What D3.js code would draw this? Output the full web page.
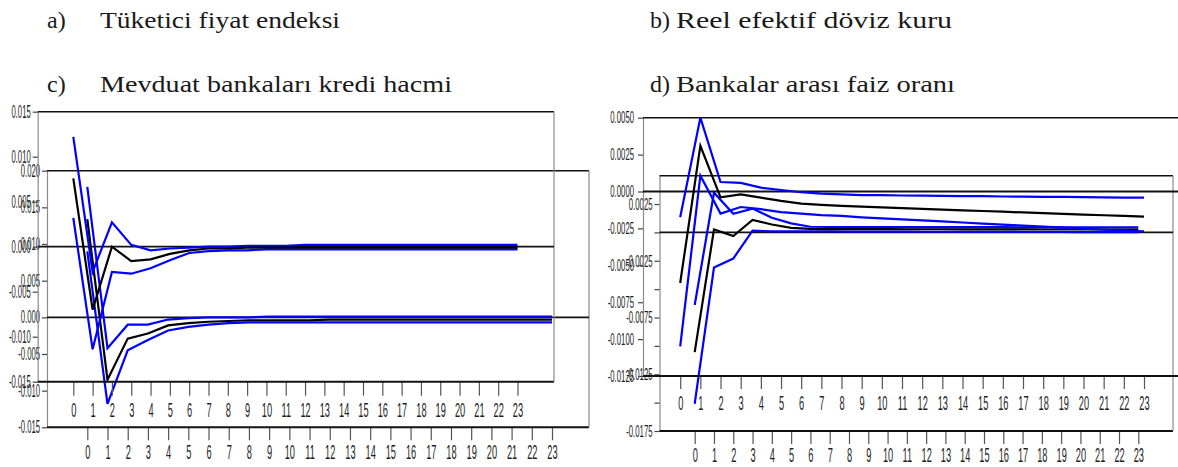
<!DOCTYPE html>
<html>
<head>
<meta charset="utf-8">
<script src="https://cdn.jsdelivr.net/npm/d3@7"></script>
<style>
    html, body { margin: 0; padding: 0; background: #fff; }
    svg { display: block; }
</style>
</head>
<body>
<svg id="chart" width="1178" height="467"></svg>
<script>

// impulse horizon
const periods = [0, 1, 2, 3, 4, 5, 6, 7, 8, 9, 10, 11, 12, 13, 14, 15, 16, 17, 18, 19, 20, 21, 22, 23];

// c) credit volume, front graph
const creditAUpper = [0.0122, -0.0028, 0.0027, 0.0002, -0.0004, -0.0002, -0.0001, 0.0000, 0.0000, 0.0001, 0.0001, 0.0001, 0.0002, 0.0002, 0.0002, 0.0002, 0.0002, 0.0002, 0.0002, 0.0002, 0.0002, 0.0002, 0.0002, 0.0002];
const creditAResp  = [0.0076, -0.0070, 0.0000, -0.0016, -0.0014, -0.0008, -0.0004, -0.0002, -0.0002, -0.0001, -0.0001, -0.0001, -0.0001, -0.0001, -0.0001, -0.0001, -0.0001, -0.0001, -0.0001, -0.0001, -0.0001, -0.0001, -0.0001, -0.0001];
const creditALower = [0.0032, -0.0114, -0.0028, -0.0030, -0.0024, -0.0015, -0.0007, -0.0005, -0.0004, -0.0004, -0.0003, -0.0003, -0.0003, -0.0003, -0.0003, -0.0003, -0.0003, -0.0003, -0.0003, -0.0003, -0.0003, -0.0003, -0.0003, -0.0003];

// c) credit volume, back graph
const creditBUpper = [0.0178, -0.0042, -0.0010, -0.0010, -0.0003, -0.0001, 0.0000, 0.0000, 0.0000, 0.0001, 0.0001, 0.0001, 0.0001, 0.0001, 0.0001, 0.0001, 0.0001, 0.0001, 0.0001, 0.0001, 0.0001, 0.0001, 0.0001, 0.0001];
const creditBResp  = [0.0134, -0.0085, -0.0029, -0.0022, -0.0011, -0.0008, -0.0006, -0.0005, -0.0004, -0.0004, -0.0004, -0.0004, -0.0003, -0.0003, -0.0003, -0.0003, -0.0003, -0.0003, -0.0003, -0.0003, -0.0003, -0.0003, -0.0003, -0.0003];
const creditBLower = [0.0090, -0.0118, -0.0045, -0.0031, -0.0018, -0.0013, -0.0010, -0.0008, -0.0007, -0.0007, -0.0007, -0.0007, -0.0007, -0.0007, -0.0007, -0.0007, -0.0007, -0.0007, -0.0007, -0.0007, -0.0007, -0.0007, -0.0007, -0.0007];

// d) interbank rate, front graph
const rateAUpper = [-0.00175, 0.0050, 0.00064, 0.00058, 0.00026, 0.00010, -0.00005, -0.00015, -0.00020, -0.00024, -0.00025, -0.00027, -0.00028, -0.00030, -0.00031, -0.00032, -0.00034, -0.00035, -0.00036, -0.00037, -0.00038, -0.00040, -0.00041, -0.00042];
const rateAResp  = [-0.0062, 0.0031, -0.0004, -0.0002, -0.00042, -0.00064, -0.00082, -0.00091, -0.00098, -0.00103, -0.00108, -0.00113, -0.00118, -0.00123, -0.00128, -0.00132, -0.00137, -0.00142, -0.00147, -0.00152, -0.00156, -0.00161, -0.00165, -0.00170];
const rateALower = [-0.0105, 0.00107, -0.0015, -0.00105, -0.0012, -0.0014, -0.0015, -0.0016, -0.00165, -0.00175, -0.00182, -0.00189, -0.00196, -0.00203, -0.0021, -0.00217, -0.00224, -0.00231, -0.00238, -0.00245, -0.00252, -0.00259, -0.00265, -0.0027];

// d) interbank rate, back graph
const rateBUpper = [-0.0064, 0.0035, 0.00165, 0.0021, 0.0013, 0.0008, 0.0005, 0.00048, 0.00047, 0.00047, 0.00047, 0.00047, 0.00046, 0.00046, 0.00046, 0.00046, 0.00046, 0.00045, 0.00045, 0.00045, 0.00045, 0.00045, 0.00045, 0.00045];
const rateBResp  = [-0.01055, 0.00026, -0.00032, 0.0011, 0.0007, 0.0004, 0.00032, 0.0003, 0.0003, 0.00029, 0.00029, 0.00028, 0.00028, 0.00028, 0.00027, 0.00027, 0.00027, 0.00027, 0.00026, 0.00026, 0.00026, 0.00026, 0.00026, 0.00026];
const rateBLower = [-0.0151, -0.0031, -0.0023, 0.00015, 0.0001, 0.0001, 0.0001, 0.0001, 0.00008, 0.00008, 0.00007, 0.00007, 0.00006, 0.00006, 0.00005, 0.00005, 0.00005, 0.00004, 0.00004, 0.00004, 0.00003, 0.00003, 0.00003, 0.00003];

// axis ticks
const creditATicks = [0.015, 0.010, 0.005, 0.000, -0.005, -0.010, -0.015];
const creditBTicks = [0.020, 0.015, 0.010, 0.005, 0.000, -0.005, -0.010, -0.015];
const rateATicks = [0.0050, 0.0025, 0.0000, -0.0025, -0.0050, -0.0075, -0.0100, -0.0125];
const rateBTicks = [0.0025, 0.0000, -0.0025, -0.0050, -0.0075, -0.0100, -0.0125, -0.0150, -0.0175];
const rateBLabels = [0.0025, -0.0025, -0.0075, -0.0125, -0.0175];

// panel titles
const titles = [
    { tag: 'a)', text: 'Tüketici fiyat endeksi' },
    { tag: 'b)', text: 'Reel efektif döviz kuru' },
    { tag: 'c)', text: 'Mevduat bankaları kredi hacmi' },
    { tag: 'd)', text: 'Bankalar arası faiz oranı' }
];

const svg = d3.select('#chart');
const BLUE = '#0000ff';

// titles
const titlePos = [
    { x: 47, tx: 100, y: 28, w: 240 },
    { x: 650, tx: 676, y: 28, w: 276 },
    { x: 47, tx: 100, y: 92, w: 352 },
    { x: 650, tx: 676, y: 92, w: 279 }
];

titles.forEach((t, i) => {
    const p = titlePos[i];
    svg.append('text')
        .attr('x', p.x)
        .attr('y', p.y)
        .attr('font-family', 'Liberation Serif, serif')
        .attr('font-size', 24)
        .attr('fill', '#1a1a1a')
        .text(t.tag);
    svg.append('text')
        .attr('x', p.tx)
        .attr('y', p.y)
        .attr('font-family', 'Liberation Serif, serif')
        .attr('font-size', 24)
        .attr('fill', '#1a1a1a')
        .attr('textLength', p.w)
        .attr('lengthAdjust', 'spacingAndGlyphs')
        .text(t.text);
});

function drawGraph (opt) {

    const {
        frame, xRange, yDomain, yTicks, yLabels = yTicks, digits,
        ySize, ySx, yPad, xTick, xPad, upper, resp, lower
    } = opt;

    const x = d3.scaleLinear().domain([0, 23]).range(xRange);
    const y = d3.scaleLinear().domain(yDomain).range([frame.bottom, frame.top]);
    const g = svg.append('g');

    // y axis
    const yAxis = d3.axisLeft(y)
        .tickValues(yTicks)
        .tickSize(5)
        .tickSizeOuter(0)
        .tickPadding(0)
        .tickFormat(d => yLabels.some(v => Math.abs(v - d) < 1e-9) ? d.toFixed(digits) : '');

    const ya = g.append('g')
        .attr('transform', `translate(${frame.left},0)`)
        .call(yAxis);

    ya.select('.domain').attr('stroke', '#8a8a8a').attr('stroke-width', 1.2);
    ya.selectAll('.tick line').attr('stroke', '#444').attr('stroke-width', 1.2);
    ya.selectAll('.tick text')
        .attr('font-family', 'Liberation Sans, Arial, sans-serif')
        .attr('font-size', ySize)
        .attr('fill', '#1e1e1e')
        .attr('x', -(5 + yPad) / ySx)
        .attr('transform', `scale(${ySx},1)`);

    // x axis
    const xAxis = d3.axisBottom(x)
        .tickValues(periods)
        .tickSize(xTick)
        .tickSizeOuter(0)
        .tickPadding(xPad)
        .tickFormat(d3.format('d'));

    const xa = g.append('g')
        .attr('transform', `translate(0,${frame.bottom})`)
        .call(xAxis);

    xa.select('.domain').remove();
    xa.selectAll('.tick line').attr('stroke', '#555').attr('stroke-width', 1.2);
    xa.selectAll('.tick text')
        .attr('font-family', 'Liberation Sans, Arial, sans-serif')
        .attr('font-size', 21)
        .attr('fill', '#1e1e1e')
        .attr('transform', 'scale(0.44,1)');

    // frame
    g.append('line')
        .attr('x1', frame.left).attr('x2', frame.right)
        .attr('y1', frame.top).attr('y2', frame.top)
        .attr('stroke', '#111').attr('stroke-width', 1.6);

    g.append('line')
        .attr('x1', frame.left).attr('x2', frame.right)
        .attr('y1', frame.bottom).attr('y2', frame.bottom)
        .attr('stroke', '#111').attr('stroke-width', 2);

    g.append('line')
        .attr('x1', frame.right).attr('x2', frame.right)
        .attr('y1', frame.top).attr('y2', frame.bottom)
        .attr('stroke', '#8a8a8a').attr('stroke-width', 1.2);

    g.append('line')
        .attr('x1', frame.left).attr('x2', frame.right)
        .attr('y1', y(0)).attr('y2', y(0))
        .attr('stroke', '#111').attr('stroke-width', 1.8);

    // responses
    const line = d3.line()
        .x((d, i) => x(periods[i]))
        .y(d => y(d));

    [[upper, BLUE], [lower, BLUE], [resp, '#000']].forEach(([values, color]) => {
        g.append('path')
            .datum(values)
            .attr('d', line)
            .attr('fill', 'none')
            .attr('stroke', color)
            .attr('stroke-width', 2.2)
            .attr('stroke-linejoin', 'miter');
    });

}

// back graph of c)
drawGraph({
    frame: { left: 47, right: 589, top: 170.7, bottom: 427.3 },
    xRange: [87.3, 552],
    yDomain: [-0.015, 0.020],
    yTicks: creditBTicks,
    digits: 3,
    ySize: 17.5, ySx: 0.44, yPad: 2,
    xTick: 13, xPad: 4,
    upper: creditBUpper, resp: creditBResp, lower: creditBLower
});

// front graph of c)
drawGraph({
    frame: { left: 37.7, right: 554, top: 111.7, bottom: 381.7 },
    xRange: [73.3, 517.5],
    yDomain: [-0.015, 0.015],
    yTicks: creditATicks,
    digits: 3,
    ySize: 17.5, ySx: 0.44, yPad: 2,
    xTick: 14, xPad: 6,
    upper: creditAUpper, resp: creditAResp, lower: creditALower
});

// back graph of d)
drawGraph({
    frame: { left: 659.5, right: 1173, top: 175.7, bottom: 431 },
    xRange: [694.7, 1138.3],
    yDomain: [-0.0175, 0.0050],
    yTicks: rateBTicks,
    yLabels: rateBLabels,
    digits: 4,
    ySize: 16.5, ySx: 0.47, yPad: 2,
    xTick: 13, xPad: 3,
    upper: rateBUpper, resp: rateBResp, lower: rateBLower
});

// front graph of d)
drawGraph({
    frame: { left: 643, right: 1190, top: 117.7, bottom: 376 },
    xRange: [680.2, 1144],
    yDomain: [-0.0125, 0.0050],
    yTicks: rateATicks,
    digits: 4,
    ySize: 16.5, ySx: 0.47, yPad: 4,
    xTick: 13, xPad: 6,
    upper: rateAUpper, resp: rateAResp, lower: rateALower
});

</script>
</body>
</html>
